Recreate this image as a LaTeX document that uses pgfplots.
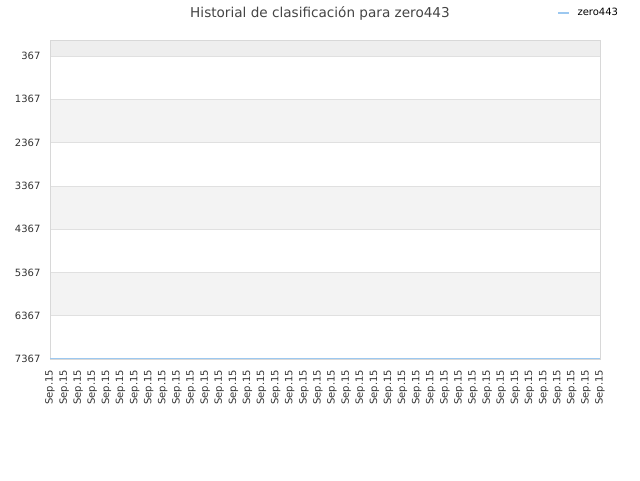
\documentclass[border=0pt]{standalone}
\usepackage{fontspec}
\setmainfont{DejaVu Sans}
\usepackage{pgfplots}
\pgfplotsset{compat=1.18}

\definecolor{gridgray}{HTML}{E0E0E0}
\definecolor{boxgray}{HTML}{D8D8D8}
\definecolor{bandgray}{HTML}{F3F3F3}
\definecolor{topgray}{HTML}{EEEEEE}
\definecolor{linblue}{HTML}{9CC8F0}
\definecolor{txtgray}{HTML}{333333}
\definecolor{titlegray}{HTML}{444444}

% 1px = 0.75pt
\begin{document}
\begin{tikzpicture}
\path[use as bounding box] (0pt,0pt) rectangle (480pt,-360pt);
\node[font=\fontsize{10.2}{12}\selectfont, text=titlegray, anchor=center] at (240pt,-9.9pt)
  {Historial de clasificación para zero443};
% alternating bands behind the plot area
\fill[topgray]  (37.5pt,-30pt)    rectangle (450pt,-41.9pt);
\fill[bandgray] (37.5pt,-74.4pt)  rectangle (450pt,-106.9pt);
\fill[bandgray] (37.5pt,-139.4pt) rectangle (450pt,-171.8pt);
\fill[bandgray] (37.5pt,-204.3pt) rectangle (450pt,-236.8pt);
\begin{axis}[
  at={(37.5pt,-269.25pt)}, anchor=south west,
  scale only axis,
  width=412.5pt, height=239.25pt,
  xmin=0, xmax=39,
  ymin=0, ymax=7367,
  y dir=reverse,
  axis line style={boxgray},
  ytick={367,1367,2367,3367,4367,5367,6367,7367},
  ymajorgrids,
  grid style={gridgray},
  major tick length=0pt,
  xtick={0,...,39},
  xticklabel={Sep.15},
  xticklabel style={rotate=90, anchor=east, font=\fontsize{7.5}{9}\selectfont, text=txtgray},
  yticklabel style={font=\fontsize{7.5}{9}\selectfont, text=txtgray},
  /pgf/number format/assume math mode=true,
  yticklabel={\pgfmathprintnumber[int detect,1000 sep={}]{\tick}},
  tick label style={inner sep=1pt},
  xticklabel shift=7pt,
  yticklabel shift=6pt,
  legend style={at={(rel axis cs:0.922,1.085)}, anchor=west, draw=none, fill=none,
    font=\fontsize{7.5}{9}\selectfont, inner sep=0pt},
  legend image code/.code={\draw[#1, line width=1.5pt] (0pt,0pt) -- (8pt,0pt); \path (12pt,0pt);},
]
\addplot[linblue, line width=0.75pt] table {
0 7345
1 7345
2 7345
3 7345
4 7345
5 7345
6 7345
7 7345
8 7345
9 7345
10 7345
11 7345
12 7345
13 7345
14 7345
15 7345
16 7345
17 7345
18 7345
19 7345
20 7345
21 7345
22 7345
23 7345
24 7345
25 7345
26 7345
27 7345
28 7345
29 7345
30 7345
31 7345
32 7345
33 7345
34 7345
35 7345
36 7345
37 7345
38 7345
39 7345
};
\addlegendentry{zero443}
\end{axis}
\end{tikzpicture}
\end{document}
